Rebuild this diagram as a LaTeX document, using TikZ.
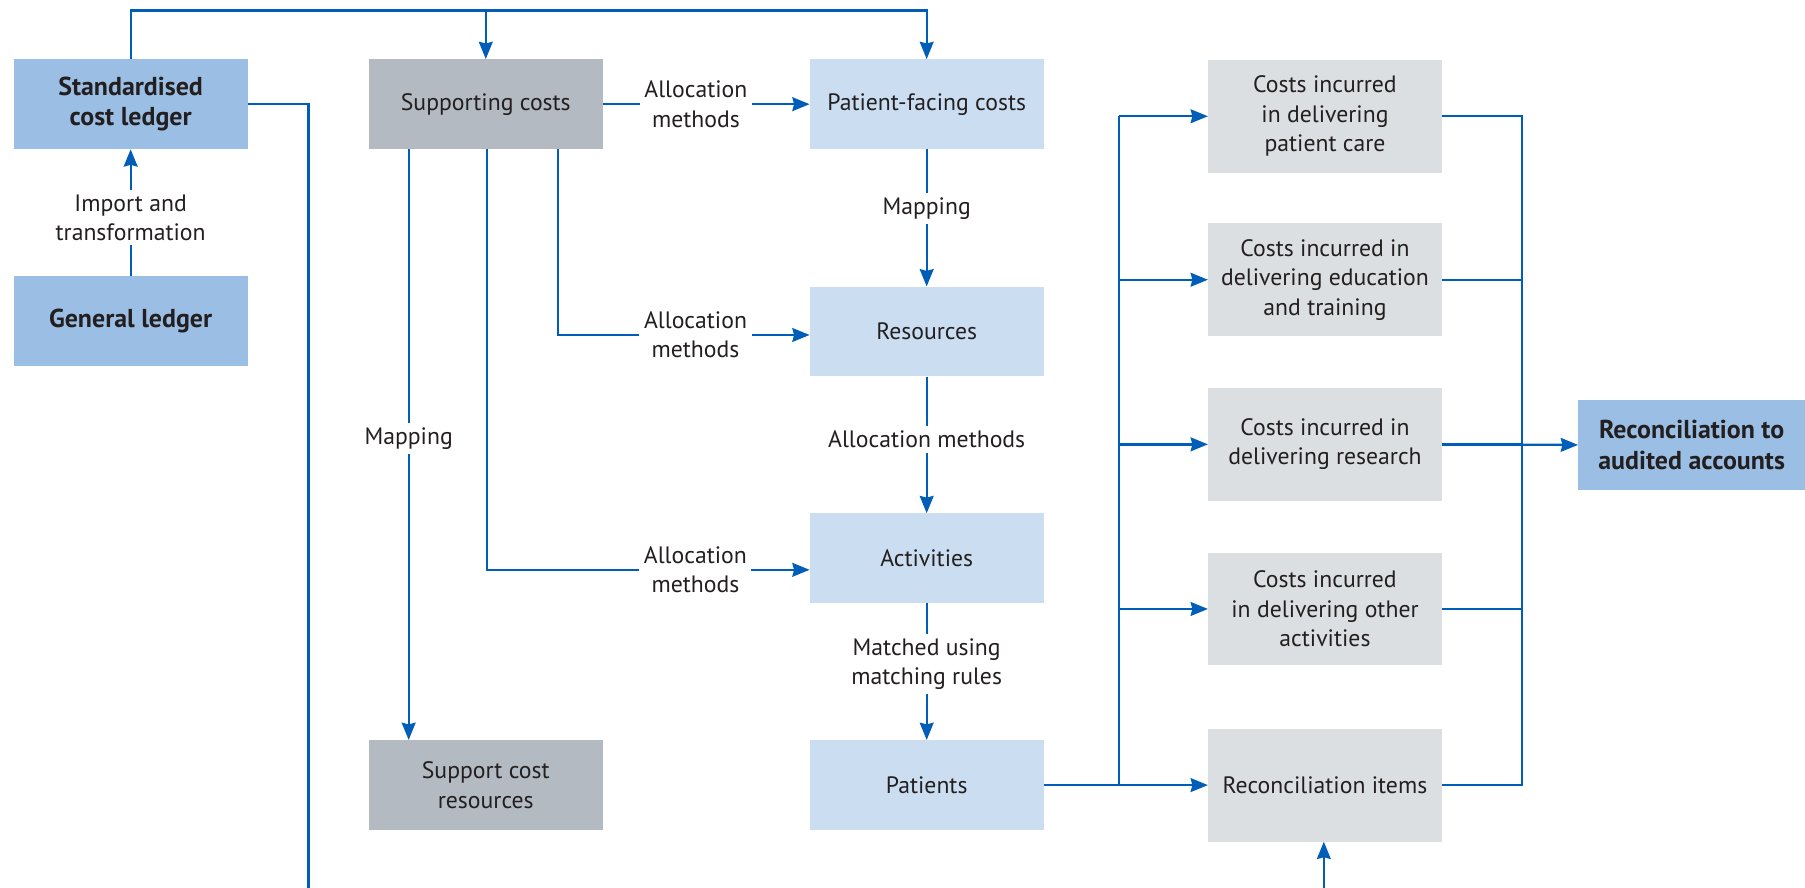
\documentclass[tikz,border=0pt]{standalone}
\usepackage{fontspec}
\setmainfont{PT Sans}
\usetikzlibrary{arrows.meta,calc}

\definecolor{lineblue}{RGB}{0,94,184}
\definecolor{midblue}{RGB}{155,191,228}
\definecolor{paleblue}{RGB}{203,222,241}
\definecolor{darkgrey}{RGB}{179,186,194}
\definecolor{palegrey}{RGB}{219,223,226}
\definecolor{txt}{RGB}{35,31,32}

\newcommand{\boxfont}{\fontsize{20.6}{25.5}\selectfont}
\newcommand{\keyfont}{\bfseries\fontsize{22.5}{26.5}\selectfont}

\tikzset{
  box/.style={rectangle, minimum width=203pt, minimum height=78pt, inner sep=0pt,
              align=center, text=txt, font=\boxfont},
  keybox/.style={box, fill=midblue, font=\keyfont},
  costbox/.style={box, fill=paleblue},
  supbox/.style={box, fill=darkgrey},
  outbox/.style={box, fill=palegrey, minimum height=98pt},
  link/.style={draw=lineblue, line width=2pt},
  flow/.style={link, -{Stealth[length=15pt,width=12pt,inset=1.5pt]}},
  lbl/.style={fill=white, align=center, text=txt, font=\boxfont, inner sep=4pt}
}

\begin{document}
\begin{tikzpicture}[x=1pt,y=-1pt]
  \useasboundingbox (0,0) rectangle (1568,771);

  % ledgers
  \node[keybox] (scl) at (113.5,90.5) {Standardised\\cost ledger};
  \node[keybox] (gl)  at (113.5,279)  {General ledger};

  % supporting costs column
  \node[supbox] (sc)  at (422,90.5) {Supporting costs};
  \node[supbox] (scr) at (422,682)  {Support cost\\resources};

  % patient-facing chain
  \node[costbox] (pfc) at (805,90.5) {Patient-facing costs};
  \node[costbox] (res) at (805,288)  {Resources};
  \node[costbox] (act) at (805,485)  {Activities};
  \node[costbox] (pat) at (805,682)  {Patients};

  % cost outputs
  \node[outbox] (c1) at (1151,101) {Costs incurred\\in delivering\\patient care};
  \node[outbox] (c2) at (1151,243) {Costs incurred in\\delivering education\\and training};
  \node[outbox] (c3) at (1151,386) {Costs incurred in\\delivering research};
  \node[outbox] (c4) at (1151,529) {Costs incurred\\in delivering other\\activities};
  \node[outbox] (ri) at (1151,682) {Reconciliation items};

  \node[keybox, minimum width=197pt] (rac) at (1469.5,386.5) {Reconciliation to\\audited accounts};

  % helper coordinates
  \coordinate (topline) at (0,9);
  \coordinate (loopl) at (268,771);
  \coordinate (loopr) at (1150,771);
  \coordinate (lbus) at (972,0);
  \coordinate (rbus) at (1322,0);

  % top distribution line
  \draw[flow] (scl.north) -- (scl.north |- topline) -| (pfc.north);
  \draw[flow] (sc.north |- topline) -- (sc.north);

  % import
  \draw[flow] (gl.north) -- node[lbl, pos=0.46] {Import and\\transformation} (scl.south);

  % ledger feed running off the bottom, and return into reconciliation items
  \draw[link] (scl.east) -| (loopl);
  \draw[flow] (loopr) -- (ri.south -| loopr);

  % supporting cost allocations
  \draw[flow] (sc.east) -- node[lbl, pos=0.45] {Allocation\\methods} (pfc.west);
  \draw[flow] ([xshift=63pt]sc.south) |- node[lbl, pos=0.773] {Allocation\\methods} ([yshift=-3pt]res.west);
  \draw[flow] ([xshift=1pt]sc.south) |- node[lbl, pos=0.823] {Allocation\\methods} ([yshift=-10pt]act.west);
  \draw[flow] ([xshift=-67pt]sc.south) -- node[lbl, pos=0.49] {Mapping} ([xshift=-67pt]scr.north);

  % patient-facing chain
  \draw[flow] (pfc.south) -- node[lbl, pos=0.43] {Mapping} (res.north);
  \draw[flow] (res.south) -- node[lbl, pos=0.46] {Allocation methods} (act.north);
  \draw[flow] (act.south) -- node[lbl, pos=0.445] {Matched using\\matching rules} (pat.north);

  % patients to cost outputs
  \draw[flow] (pat.east) -- (ri.west);
  \draw[link] (pat.east -| lbus) -- (c1.west -| lbus);
  \foreach \c in {c1,c2,c3,c4}
    \draw[flow] (\c.west -| lbus) -- (\c.west);

  % cost outputs to reconciliation
  \draw[link] (c1.east) -| (ri.east -| rbus) -- (ri.east);
  \foreach \c in {c2,c3,c4}
    \draw[link] (\c.east) -- (\c.east -| rbus);
  \draw[flow] (c3.east) -- (rac.west);
\end{tikzpicture}
\end{document}
